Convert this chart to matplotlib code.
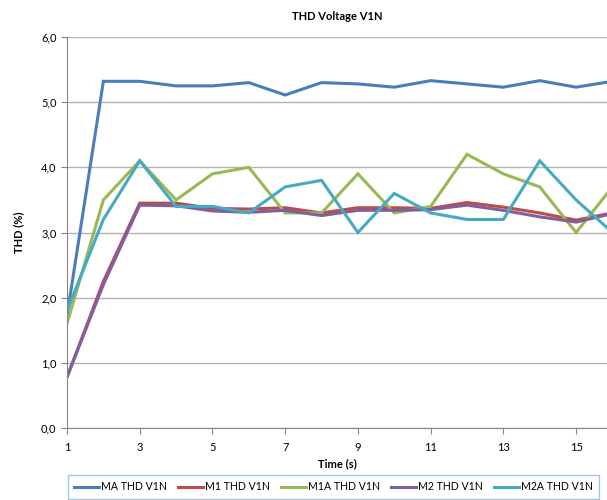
import matplotlib
matplotlib.use('Agg')
import matplotlib.pyplot as plt

tiempo = list(range(1, 17))
ma_thd = [1.72, 5.32, 5.32, 5.25, 5.25, 5.30, 5.11, 5.30, 5.28, 5.23, 5.33, 5.28, 5.23, 5.33, 5.23, 5.32]
m1_thd = [0.78, 2.25, 3.45, 3.45, 3.37, 3.36, 3.38, 3.30, 3.38, 3.38, 3.37, 3.46, 3.39, 3.30, 3.19, 3.30]
m1a_thd = [1.60, 3.50, 4.10, 3.50, 3.90, 4.00, 3.30, 3.30, 3.90, 3.30, 3.40, 4.20, 3.90, 3.70, 3.00, 3.70]
m2_thd = [0.78, 2.20, 3.42, 3.41, 3.33, 3.31, 3.34, 3.26, 3.34, 3.34, 3.35, 3.42, 3.34, 3.24, 3.16, 3.29]
m2a_thd = [1.80, 3.20, 4.10, 3.40, 3.40, 3.30, 3.70, 3.80, 3.00, 3.60, 3.30, 3.20, 3.20, 4.10, 3.50, 3.00]

series = [
    ('MA THD V1N', ma_thd, '#4A7EBB'),
    ('M1 THD V1N', m1_thd, '#BE4B48'),
    ('M1A THD V1N', m1a_thd, '#98B954'),
    ('M2 THD V1N', m2_thd, '#7D60A0'),
    ('M2A THD V1N', m2a_thd, '#46AAC5'),
]

plt.rcParams['font.family'] = ['Lato', 'DejaVu Sans']

fig = plt.figure(figsize=(6.07, 5.00), dpi=100)
ax = fig.add_axes([67 / 607, 72 / 500, 1 - 67 / 607, 391 / 500])

for nombre, valores, color in series:
    ax.plot(tiempo, valores, color=color, lw=2.2, label=nombre, solid_joinstyle='miter')

ax.set_xlim(1, 15.85)
ax.set_ylim(0, 6)
ax.set_xticks(range(1, 16, 2))
ax.set_yticks([0, 1, 2, 3, 4, 5, 6])
ax.set_yticklabels([f'{v:.1f}'.replace('.', ',') for v in range(7)])
ax.grid(axis='y', color='#b3b3b3', lw=1)
ax.set_axisbelow(True)

for lado in ['top', 'right']:
    ax.spines[lado].set_visible(False)
for lado in ['left', 'bottom']:
    ax.spines[lado].set_color('#868686')
ax.tick_params(axis='both', colors='#868686', labelcolor='black', labelsize=8, length=4)
ax.tick_params(axis='x', pad=6)

ax.set_title('THD Voltage V1N', fontsize=8, fontweight='bold', pad=12)
ax.set_xlabel('Time (s)', fontsize=8, fontweight='bold', labelpad=4)
ax.set_ylabel('THD (%)', fontsize=8, fontweight='bold', labelpad=12)

leg = fig.legend(loc='upper left', bbox_to_anchor=(68 / 607, 1 - 475 / 500), ncol=5,
                 fontsize=7.6, frameon=True, fancybox=False, handlelength=2.3,
                 handletextpad=0.2, columnspacing=1.1, borderaxespad=0,
                 borderpad=0.6)
leg.get_frame().set_edgecolor('#8eb4e3')
leg.get_frame().set_linewidth(1)

plt.savefig('out.png', dpi=100)
plt.close(fig)
